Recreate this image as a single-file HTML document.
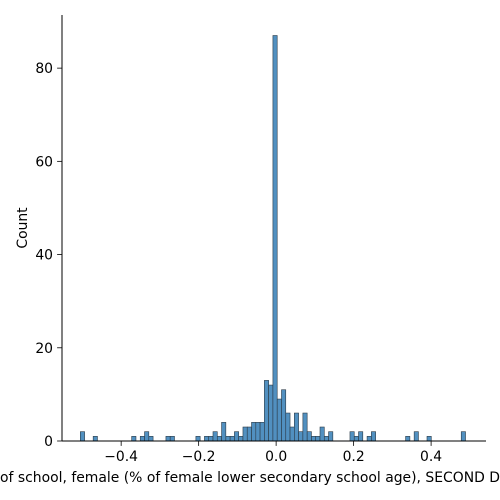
<!DOCTYPE html>
<html><head><meta charset="utf-8"><style>
html,body{margin:0;padding:0;background:#fff;width:500px;height:500px;overflow:hidden}
svg text{font-family:"DejaVu Sans","Liberation Sans",sans-serif;fill:#000}
</style></head><body>
<svg id="chart" width="500" height="500" xmlns="http://www.w3.org/2000/svg">
<g id="bars"></g>
<g id="axes"></g>
</svg>
<script>
const binStart = -0.5054;
const binWidth = 0.011047;
const binIndex = [0,3,12,14,15,16,20,21,27,29,30,31,32,33,34,35,36,37,38,39,40,41,42,43,44,45,46,47,48,49,50,51,52,53,54,55,56,57,58,63,64,65,67,68,76,78,81,89];
const counts   = [2,1,1,1,2,1,1,1,1,1,1,2,1,4,1,1,2,1,3,3,4,4,4,13,12,87,9,11,6,3,6,2,6,2,1,1,3,1,2,2,1,2,1,2,1,2,1,2];
const xTicks = [-0.4,-0.2,0.0,0.2,0.4];
const xTickLabels = ["\u22120.4","\u22120.2","0.0","0.2","0.4"];
const yTicks = [0,20,40,60,80];
const yTickLabels = ["0","20","40","60","80"];

const L=62,R=486,T=15,B=441;
const xMin=-0.5527,xMax=0.5417,yMax=91.4;
const xs=v=>L+(v-xMin)/(xMax-xMin)*(R-L);
const ys=v=>B-v/yMax*(B-T);
const NS="http://www.w3.org/2000/svg";
function mk(tag,attrs,parent){const e=document.createElementNS(NS,tag);for(const k in attrs)e.setAttribute(k,attrs[k]);parent.appendChild(e);return e;}
const gb=document.getElementById('bars');
binIndex.forEach((bi,i)=>{
  const x0=xs(binStart+bi*binWidth),x1=xs(binStart+(bi+1)*binWidth);
  const r=mk('rect',{x:x0,y:ys(counts[i]),width:x1-x0,height:B-ys(counts[i]),fill:'#5190c0','stroke':'#2b3a46','stroke-width':0.6},gb);
  
  
});
const ga=document.getElementById('axes');
const l1=mk('line',{x1:L,y1:T,x2:L,y2:B,stroke:'#000','stroke-width':1},ga);


const l2=mk('line',{x1:L,y1:B,x2:R,y2:B,stroke:'#000','stroke-width':1},ga);


xTicks.forEach((t,i)=>{
  const x=xs(t);
  const tk=mk('line',{x1:x,y1:B,x2:x,y2:B+4.9,stroke:'#000','stroke-width':0.8},ga);
  
  
  const tx=mk('text',{x:x,y:B+20,'text-anchor':'middle','font-size':'13.9px'},ga);
  tx.textContent=xTickLabels[i];
  
  
});
yTicks.forEach((t,i)=>{
  const y=ys(t);
  const tk=mk('line',{x1:L-4.9,y1:y,x2:L,y2:y,stroke:'#000','stroke-width':0.8},ga);
  
  
  const tx=mk('text',{x:L-9,y:y+5,'text-anchor':'end','font-size':'13.9px'},ga);
  tx.textContent=yTickLabels[i];
  
  
});
const yl=mk('text',{x:0,y:0,'text-anchor':'middle','font-size':'13.9px',transform:'translate(27,228) rotate(-90)'},ga);
yl.textContent='Count';


const xl=mk('text',{x:0,y:482,'text-anchor':'start','font-size':'13.9px',textLength:'500',lengthAdjust:'spacingAndGlyphs'},ga);
xl.textContent='of school, female (% of female lower secondary school age), SECOND D';


</script>
</body></html>
